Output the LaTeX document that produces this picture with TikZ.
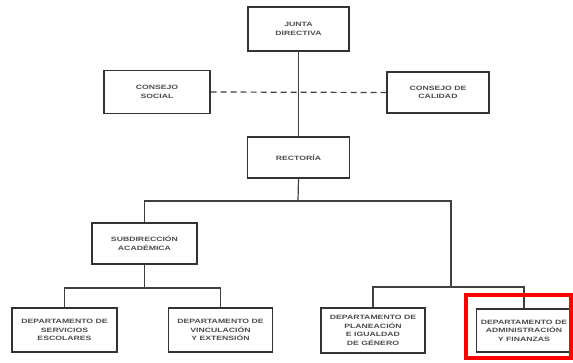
\documentclass[tikz,border=0pt]{standalone}
\usepackage{fontspec}
\setmainfont{Liberation Sans}[FakeStretch=1.4]
\begin{document}
\begin{tikzpicture}[x=1pt,y=-1pt,
  box/.style={draw=black!80,line width=1.3pt,fill=white,inner sep=0pt,align=center,
    text=black!70,font=\fontsize{6.2}{8.6}\selectfont\bfseries},
  link/.style={draw=black!75,line width=1.2pt},
  dlink/.style={draw=black!75,line width=1.2pt,dash pattern=on 6pt off 4pt}]
\useasboundingbox[fill=white] (0,0) rectangle (573,362);
\coordinate (b1) at (298,201);
\coordinate (r1) at (451,287);
\coordinate (b2) at (144.5,288);
\node[box,minimum width=101pt,minimum height=44pt] (junta) at (298.5,29) {JUNTA\\DIRECTIVA};
\node[box,minimum width=106pt,minimum height=43pt] (social) at (157,92) {CONSEJO\\SOCIAL};
\node[box,minimum width=102pt,minimum height=41pt] (calidad) at (438,92.5) {CONSEJO DE\\CALIDAD};
\node[box,minimum width=102pt,minimum height=41pt] (rect) at (298.5,157.5) {RECTORÍA};
\node[box,minimum width=105pt,minimum height=41pt] (sub) at (144.5,243.5) {SUBDIRECCIÓN\\ACADÉMICA};
\node[box,minimum width=105pt,minimum height=44pt] (serv) at (64.5,330) {DEPARTAMENTO DE\\SERVICIOS\\ESCOLARES};
\node[box,minimum width=104pt,minimum height=44pt] (vinc) at (220.5,330) {DEPARTAMENTO DE\\VINCULACIÓN\\Y EXTENSIÓN};
\node[box,minimum width=104pt,minimum height=45pt] (plan) at (373,330.5) {DEPARTAMENTO DE\\PLANEACIÓN\\E IGUALDAD\\DE GÉNERO};
\node[box,minimum width=95pt,minimum height=43pt] (adm) at (524,330.5) {DEPARTAMENTO DE\\ADMINISTRACIÓN\\Y FINANZAS};
\draw[link] (junta.south) -- (rect.north);
\draw[dlink] (social.east) -- (calidad.west);
\draw[link] (rect.south) -- (b1);
\draw[link] (sub.north) |- (b1) -| (r1);
\draw[link] (plan.north) |- (r1) -| (adm.north);
\draw[link] (sub.south) -- (b2);
\draw[link] (serv.north) |- (b2) -| (vinc.north);
\draw[red,line width=3.8pt] (466,295) rectangle (571,358);
\end{tikzpicture}
\end{document}
